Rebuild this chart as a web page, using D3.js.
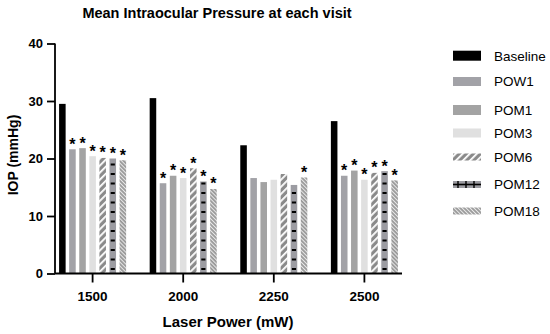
<!DOCTYPE html>
<html>
<head>
<meta charset="utf-8">
<script src="https://cdn.jsdelivr.net/npm/d3@7"></script>
<style>
  body { margin: 0; background: #fff; }
  svg { display: block; font-family: "Liberation Sans", Arial, sans-serif; }
</style>
</head>
<body>
<svg id="chart" width="550" height="334"></svg>
<script>
// ---- data ----
const categories = ["1500", "2000", "2250", "2500"];
const seriesNames = ["Baseline", "POW1", "POM1", "POM3", "POM6", "POM12", "POM18"];
const baseline = [29.5, 30.5, 22.3, 26.5];
const pow1 = [21.6, 15.7, 16.6, 17.0];
const pom1 = [21.8, 17.0, 15.9, 17.9];
const pom3 = [20.4, 16.6, 16.3, 16.3];
const pom6 = [20.1, 18.3, 17.3, 17.5];
const pom12 = [20.0, 16.0, 15.4, 17.8];
const pom18 = [19.7, 14.7, 16.7, 16.2];
// significance markers (1 = asterisk)
const sigPow1 = [1, 1, 0, 1];
const sigPom1 = [1, 1, 0, 1];
const sigPom3 = [1, 1, 0, 1];
const sigPom6 = [1, 1, 0, 1];
const sigPom12 = [1, 1, 0, 1];
const sigPom18 = [1, 1, 1, 1];
const yTicks = [0, 10, 20, 30, 40];

const seriesValues = [baseline, pow1, pom1, pom3, pom6, pom12, pom18];
const seriesSig = [[0,0,0,0], sigPow1, sigPom1, sigPom3, sigPom6, sigPom12, sigPom18];

// ---- layout ----
const svg = d3.select("#chart");
const x0 = d3.scaleBand().domain(categories).range([55, 402]).paddingInner(0.26).paddingOuter(0.045);
const x1 = d3.scaleBand().domain(seriesNames).range([0, x0.bandwidth()]).paddingInner(0.35).paddingOuter(0);
const y = d3.scaleLinear().domain([0, 40]).range([273.5, 43.5]);

// ---- patterns ----
const defs = svg.append("defs");
const p6 = defs.append("pattern").attr("id", "pPOM6").attr("patternUnits", "userSpaceOnUse")
  .attr("width", 5).attr("height", 5).attr("patternTransform", "rotate(45)");
p6.append("rect").attr("width", 5).attr("height", 5).attr("fill", "#8a8a8a");
p6.append("rect").attr("x", 0).attr("width", 1.8).attr("height", 5).attr("fill", "#ffffff");

const p12 = defs.append("pattern").attr("id", "pPOM12").attr("patternUnits", "userSpaceOnUse")
  .attr("width", 40).attr("height", 9.5).attr("y", 273.5);
p12.append("rect").attr("width", 40).attr("height", 9.5).attr("fill", "#9c9ca2");

const p18 = defs.append("pattern").attr("id", "pPOM18").attr("patternUnits", "userSpaceOnUse")
  .attr("width", 2.8).attr("height", 2.8).attr("patternTransform", "rotate(-45)");
p18.append("rect").attr("width", 2.8).attr("height", 2.8).attr("fill", "#9a9a9a");
p18.append("rect").attr("width", 1).attr("height", 2.8).attr("fill", "#e8e8e8");

const fills = ["#000000", "#a2a2a7", "#a3a3a3", "#e0e0e0", "url(#pPOM6)", "url(#pPOM12)", "url(#pPOM18)"];

// ---- bars ----
const groups = svg.append("g").selectAll("g").data(categories).join("g")
  .attr("transform", d => `translate(${x0(d)},0)`);

seriesNames.forEach((s, si) => {
  groups.append("rect")
    .attr("x", x1(s))
    .attr("y", (d, ci) => y(seriesValues[si][ci]))
    .attr("width", x1.bandwidth())
    .attr("height", (d, ci) => y(0) - y(seriesValues[si][ci]))
    .attr("fill", fills[si]);
  if (s === "POM12") {
    // black dashes inside POM12 bars
    groups.each(function(d, ci) {
      const top = y(seriesValues[si][ci]);
      const g = d3.select(this);
      for (let v = y(0) - 4.5; v > top + 1; v -= 9.5) {
        g.append("rect").attr("x", x1(s) + 1.2).attr("y", v - 1)
          .attr("width", x1.bandwidth() - 2.4).attr("height", 2).attr("fill", "#000");
      }
    });
  }
  groups.filter((d, ci) => seriesSig[si][ci] === 1)
    .append("text")
    .attr("x", x1(s) + x1.bandwidth() / 2)
    .attr("y", d => y(seriesValues[si][categories.indexOf(d)]) + 0.5)
    .attr("text-anchor", "middle")
    .attr("font-size", 16)
    .attr("font-weight", "bold")
    .attr("fill", "#000")
    .text("*");
});

// ---- axes ----
const yAxis = svg.append("g").attr("transform", "translate(55,0)")
  .call(d3.axisLeft(y).tickValues(yTicks).tickSize(8).tickPadding(4));
const xAxis = svg.append("g").attr("transform", "translate(0,273.5)")
  .call(d3.axisBottom(x0).tickSize(9).tickPadding(9).tickSizeOuter(0));
[yAxis, xAxis].forEach(a => {
  a.select(".domain").attr("stroke", "#000").attr("stroke-width", 1.8);
  a.selectAll(".tick line").attr("stroke", "#000").attr("stroke-width", 1.8);
  a.selectAll("text").attr("font-weight", "bold").attr("fill", "#000")
    .attr("font-family", "Liberation Sans, Arial, sans-serif");
});
yAxis.selectAll("text").attr("font-size", 13);
xAxis.selectAll("text").attr("font-size", 13.5);
yAxis.select(".domain").attr("d", "M0,273.5V43.5");
xAxis.select(".domain").attr("d", "M55,0H402");

// ---- titles ----
svg.append("text").attr("x", 217).attr("y", 18).attr("text-anchor", "middle")
  .attr("font-size", 14.5).attr("font-weight", "bold").text("Mean Intraocular Pressure at each visit");
svg.append("text").attr("x", 228).attr("y", 327).attr("text-anchor", "middle")
  .attr("font-size", 15).attr("font-weight", "bold").text("Laser Power (mW)");
svg.append("text").attr("transform", "translate(18,155) rotate(-90)").attr("text-anchor", "middle")
  .attr("font-size", 14).attr("font-weight", "bold").text("IOP (mmHg)");

// ---- legend ----
const legendY = [55.7, 81.5, 110, 133, 157, 184.5, 211];
const legendH = [10, 9, 10, 9, 7, 7, 7];
const lg = svg.append("g");
seriesNames.forEach((s, i) => {
  const cy = legendY[i];
  lg.append("rect").attr("x", 453).attr("y", cy - legendH[i] / 2).attr("width", 28).attr("height", legendH[i])
    .attr("fill", fills[i]);
  if (s === "POM12") {
    lg.append("line").attr("x1", 453).attr("x2", 481).attr("y1", cy).attr("y2", cy)
      .attr("stroke", "#000").attr("stroke-width", 1.6);
    [458, 466, 474].forEach(xx => lg.append("line").attr("x1", xx).attr("x2", xx)
      .attr("y1", cy - 3.5).attr("y2", cy + 3.5).attr("stroke", "#000").attr("stroke-width", 1.4));
  }
  lg.append("text").attr("x", 494).attr("y", cy + 4.8).attr("font-size", 13.5).attr("fill", "#000").text(s);
});
</script>
</body>
</html>
